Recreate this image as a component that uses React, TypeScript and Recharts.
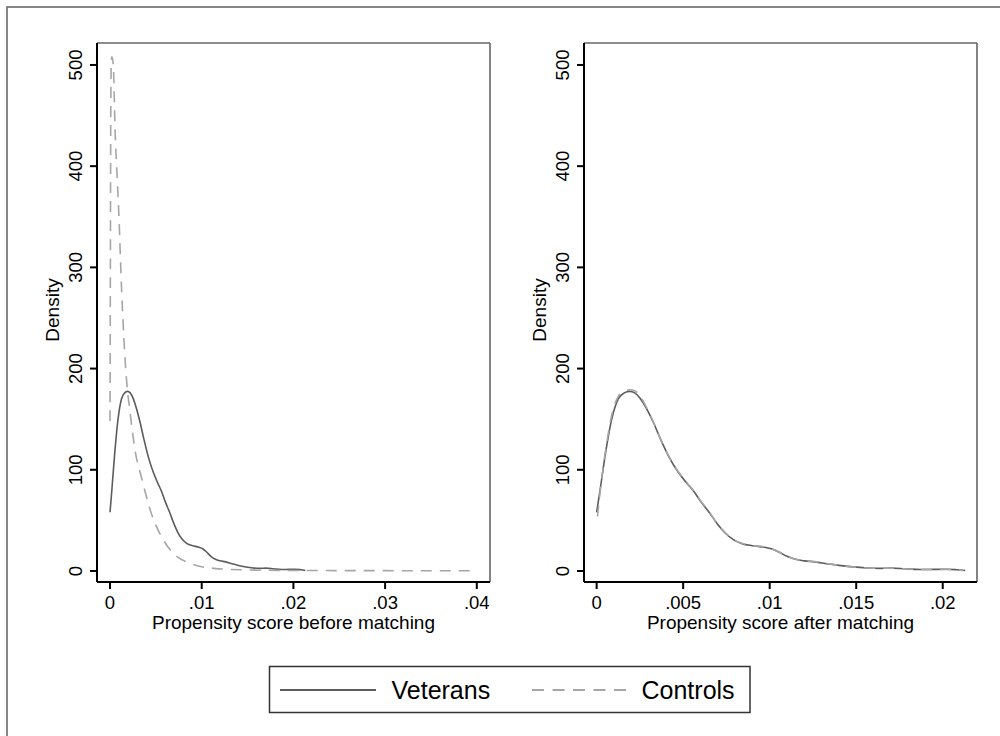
import { LineChart, Line, XAxis, YAxis, ReferenceLine } from 'recharts'

// density curves: [propensity score, density]
const veterans: [number, number][] = [
  [0, 58], [0.0002, 80], [0.0005, 115], [0.0009, 152], [0.00125, 170], [0.0016, 176],
  [0.0019, 177.5], [0.0022, 176], [0.0025, 171], [0.0029, 160], [0.0033, 146], [0.0037, 130],
  [0.0042, 112], [0.0047, 98], [0.0052, 87], [0.0056, 79], [0.006, 69], [0.0065, 58],
  [0.007, 46], [0.0074, 38], [0.0079, 31], [0.0084, 27], [0.009, 25], [0.0097, 23.5],
  [0.0101, 22], [0.0105, 19], [0.011, 14.5], [0.0115, 11.5], [0.012, 10], [0.0126, 9],
  [0.0133, 7.2], [0.014, 5.5], [0.0148, 4], [0.0156, 3], [0.0164, 2.6], [0.017, 2.8],
  [0.0178, 2.2], [0.0187, 1.4], [0.0195, 1.6], [0.0202, 1.7], [0.0208, 1.2], [0.0213, 0.5],
]

const controlsAll: [number, number][] = [
  [0, 148], [0.00004, 300], [0.00008, 450], [0.00014, 503], [0.0002, 508], [0.00036, 500],
  [0.00055, 436], [0.0008, 385], [0.001, 344], [0.00117, 300], [0.0014, 250], [0.0018, 189],
  [0.0022, 156], [0.0027, 121], [0.0035, 90], [0.0045, 57], [0.0056, 34], [0.0069, 17.5],
  [0.0087, 7.6], [0.0113, 2.6], [0.015, 1], [0.02, 0.5], [0.03, 0.3], [0.0401, 0.2],
]

const controlsMatched: [number, number][] = [
  [0.00005, 54], [0.0002, 78], [0.0005, 117], [0.0009, 156], [0.00125, 172.5], [0.0016, 177.5],
  [0.0019, 179], [0.0022, 178], [0.0025, 173], [0.0029, 161], [0.0033, 146.5], [0.0037, 130],
  [0.0042, 112.5], [0.0047, 98.5], [0.0052, 87.5], [0.0056, 79.5], [0.006, 69.5], [0.0065, 58.5],
  [0.007, 46], [0.0074, 38.5], [0.0079, 31], [0.0084, 27.5], [0.009, 25], [0.0097, 23.8],
  [0.0101, 22], [0.0105, 19], [0.011, 14.8], [0.0115, 11.5], [0.012, 10], [0.0126, 9.2],
  [0.0133, 7.4], [0.014, 5.6], [0.0148, 4], [0.0156, 3], [0.0164, 2.7], [0.017, 2.8],
  [0.0178, 2.1], [0.0187, 1.5], [0.0195, 1.6], [0.0202, 1.6], [0.0208, 1.1], [0.0212, 0.5],
]

const xTicksBefore = [0, 0.01, 0.02, 0.03, 0.04]
const xTicksAfter = [0, 0.005, 0.01, 0.015, 0.02]
const yTicks = [0, 100, 200, 300, 400, 500]
const seriesNames = ['Veterans', 'Controls']
const axisTitles = ['Propensity score before matching', 'Propensity score after matching']

const FONT = '"Liberation Sans", Arial, Helvetica, sans-serif'
const VET = '#5c5c5c'
const CTRL = '#a6a6a6'
const DASH = '11 8'
const Y_DOMAIN: [number, number] = [-10.9, 521.7]

const toPts = (a: [number, number][]) => a.map(([x, y]) => ({ x, y }))
const fmtX = (v: number) => (v === 0 ? '0' : String(v).replace(/^0/, ''))

const XTick = (p: any) => (
  <text x={p.x} y={p.y + 20} textAnchor="middle" fontSize={18.5} fontFamily={FONT} fill="#000">
    {fmtX(p.payload.value)}
  </text>
)

const YTick = (p: any) => (
  <text
    x={p.x - 8}
    y={p.y}
    transform={`rotate(-90, ${p.x - 8}, ${p.y})`}
    textAnchor="middle"
    fontSize={18.5}
    fontFamily={FONT}
    fill="#000"
  >
    {p.payload.value}
  </text>
)

function Panel({ xDomain, xTicks, series }: {
  xDomain: [number, number]
  xTicks: number[]
  series: { data: [number, number][]; dashed: boolean }[]
}) {
  return (
    <LineChart width={500} height={640} margin={{ top: 43, right: 10, bottom: 0, left: 0 }}>
      <XAxis
        type="number"
        dataKey="x"
        domain={xDomain}
        ticks={xTicks}
        allowDataOverflow
        height={58}
        tickSize={7}
        tickMargin={0}
        tick={XTick}
        axisLine={{ stroke: '#000', strokeWidth: 2 }}
        tickLine={{ stroke: '#000', strokeWidth: 2 }}
      />
      <YAxis
        type="number"
        domain={Y_DOMAIN}
        ticks={yTicks}
        allowDataOverflow
        width={97}
        tickSize={7}
        tickMargin={0}
        tick={YTick}
        axisLine={{ stroke: '#000', strokeWidth: 2 }}
        tickLine={{ stroke: '#000', strokeWidth: 2 }}
      />
      <ReferenceLine y={Y_DOMAIN[1]} stroke="#666" strokeWidth={1.6} />
      <ReferenceLine x={xDomain[1]} stroke="#666" strokeWidth={1.6} />
      {series.map((s, i) => (
        <Line
          key={i}
          data={toPts(s.data)}
          dataKey="y"
          type="monotone"
          stroke={s.dashed ? CTRL : VET}
          strokeWidth={1.6}
          strokeDasharray={s.dashed ? DASH : undefined}
          dot={false}
          activeDot={false}
          isAnimationActive={false}
        />
      ))}
    </LineChart>
  )
}

export default function App() {
  return (
    <div style={{ position: 'absolute', left: 0, top: 0, width: 1000, height: 736, background: '#fff', overflow: 'hidden' }}>
      <div style={{ position: 'absolute', left: 0, top: 0 }}>
        <Panel
          xDomain={[-0.00142, 0.04144]}
          xTicks={xTicksBefore}
          series={[{ data: veterans, dashed: false }, { data: controlsAll, dashed: true }]}
        />
      </div>
      <div style={{ position: 'absolute', left: 487, top: 0 }}>
        <Panel
          xDomain={[-0.00073, 0.02198]}
          xTicks={xTicksAfter}
          series={[{ data: veterans, dashed: false }, { data: controlsMatched, dashed: true }]}
        />
      </div>
      <svg width={1000} height={736} style={{ position: 'absolute', left: 0, top: 0, pointerEvents: 'none' }}>
        <rect x={7} y={7} width={1100} height={1100} fill="none" stroke="#6a6a6a" strokeWidth={1.6} />
        {[0, 487].map((dx, i) => (
          <g key={i} fontFamily={FONT} fill="#000">
            <text x={293.5 + dx} y={629} textAnchor="middle" fontSize={19}>{axisTitles[i]}</text>
            <text x={58.5 + dx} y={310} transform={`rotate(-90, ${58.5 + dx}, 310)`} textAnchor="middle" fontSize={19}>
              Density
            </text>
          </g>
        ))}
        <rect x={269.5} y={666.5} width={480.5} height={46} fill="#fff" stroke="#333" strokeWidth={1.5} />
        <line x1={280} y1={690} x2={376} y2={690} stroke={VET} strokeWidth={2.2} />
        <text x={391.5} y={699} fontSize={25} fontFamily={FONT} fill="#000">{seriesNames[0]}</text>
        <line x1={532} y1={690} x2={627} y2={690} stroke={CTRL} strokeWidth={2} strokeDasharray="12 8.5" />
        <text x={641.5} y={699} fontSize={25} fontFamily={FONT} fill="#000">{seriesNames[1]}</text>
      </svg>
    </div>
  )
}
